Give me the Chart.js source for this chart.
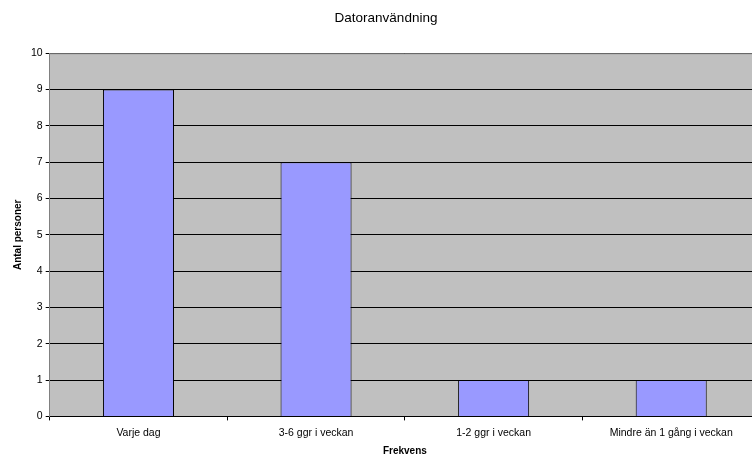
<!DOCTYPE html>
<html>
<head>
<meta charset="utf-8">
<script src="https://cdn.jsdelivr.net/npm/chart.js@4"></script>
<style>
  html, body { margin: 0; padding: 0; background: #fff; overflow: hidden; }
  #wrap { width: 760px; height: 461px; position: relative; }
</style>
</head>
<body>
<div id="wrap"><canvas id="c"></canvas></div>
<script>
const categories = ["Varje dag", "3-6 ggr i veckan", "1-2 ggr i veckan", "Mindre än 1 gång i veckan"];
const values = [9, 7, 1, 1];
const yTicks = [0, 1, 2, 3, 4, 5, 6, 7, 8, 9, 10];

const FONT = "'Liberation Sans', Arial, sans-serif";

// Gray plot-area backdrop drawn beneath the grid and bars
const plotBackground = {
  id: 'plotBackground',
  beforeDraw(chart) {
    const { ctx, chartArea: a } = chart;
    ctx.save();
    ctx.fillStyle = '#C0C0C0';
    ctx.fillRect(a.left, a.top, a.right - a.left, a.bottom - a.top);
    ctx.restore();
  },
  afterDatasetsDraw(chart) {
    const { ctx, chartArea: a } = chart;
    ctx.save();
    ctx.strokeStyle = '#808080';
    ctx.lineWidth = 1;
    ctx.beginPath();
    ctx.moveTo(a.left, a.top + 0.5);
    ctx.lineTo(a.right, a.top + 0.5);
    ctx.stroke();
    ctx.restore();
  }
};

new Chart(document.getElementById('c'), {
  type: 'bar',
  data: {
    labels: categories,
    datasets: [{
      data: values,
      backgroundColor: '#9999FF',
      borderColor: '#000000',
      borderWidth: 1,
      barPercentage: 0.4,
      categoryPercentage: 1.0
    }]
  },
  options: {
    responsive: true,
    maintainAspectRatio: false,
    animation: false,
    devicePixelRatio: 1,
    layout: { padding: { top: 10, left: 12, right: 0, bottom: 4 } },
    plugins: {
      legend: { display: false },
      tooltip: { enabled: false },
      title: {
        display: true,
        text: 'Datoranvändning',
        color: '#000',
        font: { family: FONT, size: 13.5, weight: 'normal' },
        padding: { top: 0, bottom: 27 }
      }
    },
    scales: {
      x: {
        offset: true,
        grid: {
          display: true,
          offset: true,
          drawOnChartArea: false,
          drawTicks: true,
          tickLength: 4,
          color: '#000'
        },
        border: { display: true, color: '#000' },
        ticks: { color: '#000', font: { family: FONT, size: 10.5 }, padding: 6, maxRotation: 0 },
        title: {
          display: true,
          text: 'Frekvens',
          color: '#000',
          font: { family: FONT, size: 10, weight: 'bold' },
          padding: { top: 0, bottom: 0 }
        }
      },
      y: {
        min: 0,
        max: 10,
        afterBuildTicks(axis) { axis.ticks = yTicks.map(v => ({ value: v })); },
        grid: { color: '#000', tickLength: 4, lineWidth: 1 },
        border: { display: true, color: '#808080' },
        ticks: { color: '#000', font: { family: FONT, size: 10.5 }, padding: 3 },
        title: {
          display: true,
          text: 'Antal personer',
          color: '#000',
          font: { family: FONT, size: 10, weight: 'bold' },
          padding: { top: 0, bottom: 4 }
        }
      }
    }
  },
  plugins: [plotBackground]
});
</script>
</body>
</html>
